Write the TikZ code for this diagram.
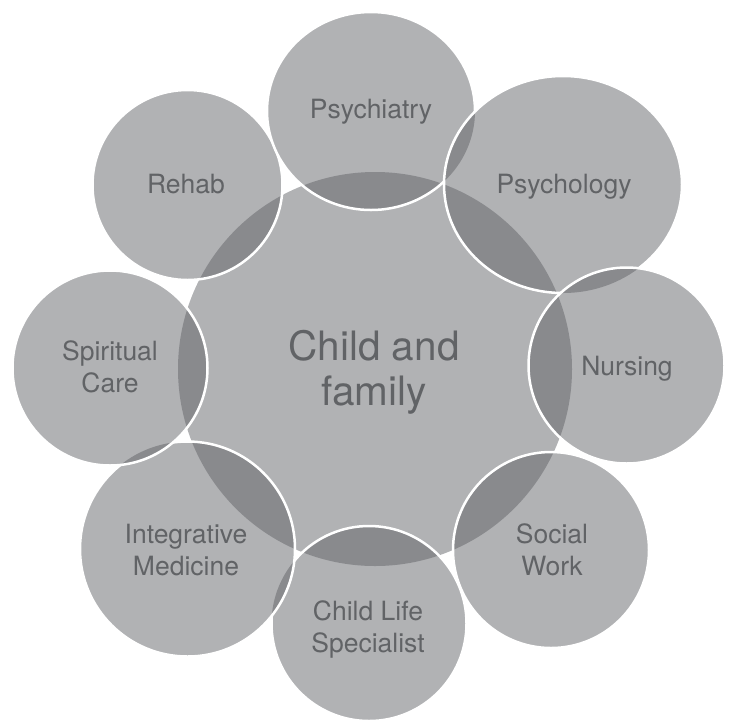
\documentclass[tikz,border=0pt]{standalone}
\usepackage{fontspec}
\setmainfont{TeX Gyre Heros}
\usepackage{tikz}

\definecolor{disklight}{RGB}{177,178,180}
\definecolor{diskdark}{RGB}{137,138,141}
\definecolor{labelgray}{RGB}{97,99,102}

\tikzset{
  lightdisk/.style={fill=disklight},
  darkdisk/.style={fill=diskdark},
  rim/.style={draw=white,line width=2.5pt},
  lab/.style={text=labelgray,font=\fontsize{26.5}{31.7}\selectfont,align=center,anchor=base},
  biglab/.style={lab,font=\fontsize{40.5}{45}\selectfont}
}

% one disk: fill, darken where it covers the earlier ones, white rim
\newcommand\placedisk[2]{%
  \fill[lightdisk] #1;
  \begin{scope}\clip #1; \fill[darkdisk] #2; \end{scope}
  \draw[rim] #1;}

\begin{document}
\begin{tikzpicture}[x=1pt,y=-1pt]
		\useasboundingbox (0,0) rectangle (738,724);
		\def\dCen{(375,369) circle [radius=197pt]}
		\def\dLife{(369,623.5) circle [radius=97.5pt]}
		\def\dInteg{(187.5,549) circle [radius=107.5pt]}
		\def\dSpirit{(110,368) circle [radius=97.5pt]}
		\def\dRehab{(187.5,185) circle [radius=95pt]}
		\def\dPsych{(371,111) ellipse [x radius=104pt, y radius=99pt]}
		\def\dPsycho{(563,184.5) ellipse [x radius=119pt, y radius=108.5pt]}
		\def\dNurse{(626.5,365.5) circle [radius=98pt]}
		\def\dSocial{(551,550) circle [radius=98pt]}
		%Centre
		\fill[lightdisk] \dCen;
		%Disks, lower left first
		\placedisk{\dLife}{\dCen}
		\placedisk{\dInteg}{\dCen \dLife}
		\placedisk{\dSpirit}{\dCen \dInteg}
		\placedisk{\dRehab}{\dCen}
		%Disks, upper right
		\placedisk{\dPsych}{\dCen}
		\placedisk{\dPsycho}{\dCen \dPsych}
		\placedisk{\dNurse}{\dCen \dPsycho}
		\placedisk{\dSocial}{\dCen}
		%Labels (base = last line)
		\node[biglab] (family) at (374,405) {Child and\\family};
		\node[lab] (psychiatry) at (371,118) {Psychiatry};
		\node[lab] (psychology) at (564,193) {Psychology};
		\node[lab] (rehab) at (186,193) {Rehab};
		\node[lab] (nursing) at (627,375) {Nursing};
		\node[lab] (spiritual) at (110,392) {Spiritual\\Care};
		\node[lab] (integrative) at (186,575) {Integrative\\Medicine};
		\node[lab] (childlife) at (368,652) {Child Life\\Specialist};
		\node[lab] (social) at (552,575) {Social\\Work};
\end{tikzpicture}
\end{document}
